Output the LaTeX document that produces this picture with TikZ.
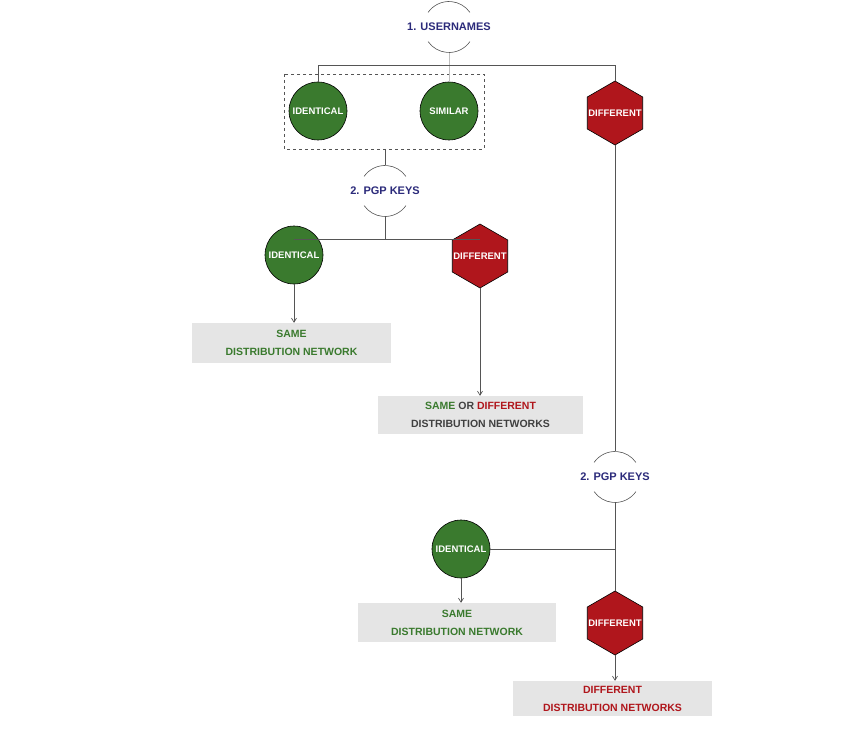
\documentclass[tikz,border=0pt]{standalone}
\usepackage{fontspec}
\setmainfont{Liberation Sans}
\usetikzlibrary{shapes.geometric,arrows.meta}
\definecolor{gr}{HTML}{3A7A2E}
\definecolor{rd}{HTML}{B0161C}
\definecolor{nv}{HTML}{2B2A7A}
\definecolor{bx}{HTML}{E5E5E5}
\definecolor{ln}{HTML}{555555}
\newcommand\hxtxt[1]{\makebox[0pt]{#1}}
\begin{document}
\begin{tikzpicture}[x=1pt,y=-1pt,
  circ/.style={circle,fill=gr,draw=black,line width=0.6pt,minimum size=58pt,inner sep=0pt,text=white,font=\fontsize{9.5}{10}\selectfont\bfseries},
  hex/.style={regular polygon,regular polygon sides=6,shape border rotate=30,fill=rd,draw=black,line width=0.6pt,minimum size=64pt,inner sep=0pt,outer sep=0pt,text=white,font=\fontsize{9.5}{10}\selectfont\bfseries},
  lab/.style={text=nv,font=\fontsize{11}{12}\selectfont\bfseries,inner sep=0pt},
  res/.style={fill=bx,inner sep=0pt,font=\fontsize{10.5}{18}\selectfont\bfseries,align=center},
  ln/.style={draw=ln,line width=0.7pt},
  arr/.style={ln,-{Straight Barb[length=4pt,width=5pt]}},
  arc/.style={draw=ln,line width=0.6pt},
  arcs/.style={insert path={
    ++(215:25.5) arc[start angle=215,end angle=325,radius=25.5]
    ++(325:-25.5) ++(35:25.5) arc[start angle=35,end angle=145,radius=25.5]}}]
\useasboundingbox (0,0) rectangle (850,730);
% level 1
\node[lab] (u) at (449,27) {1. USERNAMES};
\draw[arc] (u.center) [arcs];
\coordinate (ub) at (449,53);
\coordinate (j1) at (449,65);
\node[circ] (id1) at (318,111) {IDENTICAL};
\node[circ] (si1) at (449,111) {SIMILAR};
\node[hex] (df1) at (615,113) {\hxtxt{DIFFERENT}};
\draw[dashed,draw=ln,line width=0.6pt] (284,74) rectangle (484,149);
\coordinate (boxb) at (385,149);
\draw[draw=gray!50,line width=0.7pt] (ub) -- (si1.north);
\draw[ln] (id1.north) |- (df1.north |- j1) -- (df1.north);
% level 2 left
\node[lab] (p1) at (385,191) {2. PGP KEYS};
\draw[arc] (p1.center) [arcs];
\coordinate (p1t) at (385,165);
\coordinate (p1b) at (385,217);
\draw[ln] (boxb) -- (p1t);
\node[circ] (id2) at (294,255) {IDENTICAL};
\node[hex] (df2) at (480,256) {\hxtxt{DIFFERENT}};
\coordinate (j2) at (385,239);
\draw[ln] (p1b) -- (j2);
\draw[ln] (id2.center |- j2) -- (df2.center |- j2);
\node[res,minimum width=199pt,minimum height=40pt] (r1) at (291.5,343) {\textcolor{gr}{SAME}\\\textcolor{gr}{DISTRIBUTION NETWORK}};
\node[res,minimum width=205pt,minimum height=38pt] (r2) at (480.5,415) {\textcolor{gr}{SAME} \textcolor{black!75}{OR} \textcolor{rd}{DIFFERENT}\\\textcolor{black!75}{DISTRIBUTION NETWORKS}};
\draw[arr] (id2.south) -- (id2.south |- r1.north);
\draw[arr] (df2.south) -- (df2.south |- r2.north);
% level 2 right
\node[lab] (p2) at (615,477) {2. PGP KEYS};
\draw[arc] (p2.center) [arcs];
\coordinate (p2t) at (615,451);
\coordinate (p2b) at (615,503);
\draw[ln] (df1.south) -- (p2t);
\node[circ] (id3) at (461,549) {IDENTICAL};
\node[hex] (df3) at (615,623) {\hxtxt{DIFFERENT}};
\draw[ln] (p2b) -- (df3.north);
\draw[ln] (id3.east) -- (id3.east -| df3.north);
\node[res,minimum width=198pt,minimum height=39pt] (r3) at (457,622.5) {\textcolor{gr}{SAME}\\\textcolor{gr}{DISTRIBUTION NETWORK}};
\node[res,minimum width=199pt,minimum height=35pt] (r4) at (612.5,698.5) {\textcolor{rd}{DIFFERENT}\\\textcolor{rd}{DISTRIBUTION NETWORKS}};
\draw[arr] (id3.south) -- (id3.south |- r3.north);
\draw[arr] (df3.south) -- (df3.south |- r4.north);
\end{tikzpicture}
\end{document}
